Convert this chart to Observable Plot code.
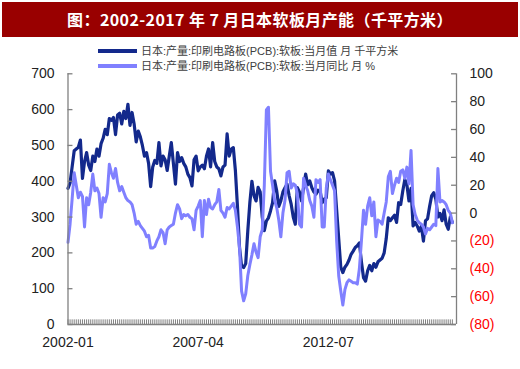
<!DOCTYPE html>
<html><head><meta charset="utf-8">
<script src="https://cdn.jsdelivr.net/npm/d3@7"></script>
<script src="https://cdn.jsdelivr.net/npm/@observablehq/plot@0.6"></script>
<style>
body{margin:0;background:#fff;}
#wrap{position:relative;width:520px;height:369px;overflow:hidden;font-family:"Liberation Sans",Arial,"Noto Sans CJK SC",sans-serif;}
#title{position:absolute;left:2px;top:2px;width:516px;height:35px;background:#990000;color:#fff;font-family:"Noto Sans CJK SC",sans-serif;font-weight:bold;font-size:16px;letter-spacing:0.4px;line-height:35px;text-align:center;white-space:nowrap;}
.leg{position:absolute;left:98px;font-size:11px;color:#404040;height:14px;line-height:14px;white-space:nowrap;font-family:"Liberation Sans","Noto Sans CJK SC",sans-serif;}
.sw{display:inline-block;width:39px;height:4px;vertical-align:middle;margin-right:4px;position:relative;top:-1px;}
#chart svg{position:absolute;left:0;top:0;}
</style></head>
<body>
<div id="wrap">
  <div id="chart"></div>
  <div id="title">图：2002-2017 年 7 月日本软板月产能（千平方米）</div>
  <div class="leg" style="top:44px"><span class="sw" style="background:#13298c"></span>日本:产量:印刷电路板(PCB):软板:当月值 月 千平方米</div>
  <div class="leg" style="top:58.5px"><span class="sw" style="background:#8080ff"></span>日本:产量:印刷电路板(PCB):软板:当月同比 月 %</div>
</div>
<script>
// Monthly values, 2002-01 .. 2017-07
const capacity = [
  380,395,440,485,490,495,515,408,455,480,445,430,
  470,455,490,470,505,520,545,530,575,570,578,530,
  585,590,560,595,575,615,556,592,560,510,540,524,
  500,470,480,450,385,440,458,450,508,443,470,460,
  430,470,508,450,392,480,455,466,450,440,420,410,
  387,460,470,429,440,445,435,470,490,440,508,455,
  440,435,415,440,445,532,470,490,494,430,330,215,
  163,159,170,261,340,400,360,345,383,370,300,262,
  289,298,317,340,401,373,330,345,370,382,392,360,
  336,300,280,382,370,345,382,420,390,401,382,370,
  364,375,373,340,350,354,429,420,424,401,320,240,
  160,145,160,168,180,196,205,215,220,228,175,131,
  121,150,165,150,170,160,175,180,185,200,240,298,
  290,298,305,285,340,335,373,405,390,345,380,275,
  285,275,261,275,233,290,295,330,360,368,350,300,
  310,290,320,280,266,300,285
];
const yoy = [
  -21,-8,10,29,20,11,15,12,-10,11,6,15,
  28,16,18,14,-3,11,8,14,35,29,25,32,
  22,16,19,15,11,9,8,6,0,-8,-6,-9,
  -11,-13,-17,-16,-25,-25,-24,-20,-17,-12,-14,-22,
  -12,-10,-9,-8,0,6,3,-4,-1,-2,-1,-3,
  -4,-12,2,5,9,-17,9,-1,10,4,3,6,
  8,17,2,0,-3,4,3,5,7,2,-10,-25,
  -56,-63,-58,-45,-37,-30,-22,-28,-32,-17,-12,20,
  74,76,30,20,9,4,-5,-17,0,9,29,30,
  18,21,20,14,-8,-10,25,20,16,9,5,-3,
  24,22,24,-10,-10,18,28,24,20,16,-20,-45,
  -56,-66,-55,-50,-48,-49,-50,-50,-51,-40,-20,2,
  -8,5,11,-2,8,-17,-5,-6,-8,0,8,26,
  30,14,20,25,22,30,31,25,33,21,45,6,
  -1,-5,-7,-8,-10,-15,-11,-12,-10,-8,-9,32,
  8,9,8,6,2,0,-7
];
const xTickLabels = ["2002-01","2007-04","2012-07"];
const leftTicks = [0,100,200,300,400,500,600,700];
const rightTicks = [-80,-60,-40,-20,0,20,40,60,80,100];

const startYear = 2002;
const monthIndex = s => (+s.slice(0,4) - startYear) * 12 + (+s.slice(5,7) - 1);
const months = d3.range(capacity.length);
const xMax = capacity.length + 1;
const L0 = 0, L1 = 700, R0 = -80, R1 = 100;
const toLeft = p => L0 + (p - R0) * (L1 - L0) / (R1 - R0);
const fromLeft = v => R0 + (v - L0) * (R1 - R0) / (L1 - L0);
const fmtRight = v => { const p = Math.round(fromLeft(v)); return p < 0 ? `(${-p})` : `${p}`; };

const s1 = months.map(i => ({i, v: capacity[i]}));
const s2 = months.map(i => ({i, v: toLeft(yoy[i])}));
const gray = "#808080";

const chart = Plot.plot({
  width: 520, height: 369,
  marginTop: 73.3, marginBottom: 45, marginLeft: 67.5, marginRight: 64,
  x: {domain: [0, xMax], axis: null, label: null},
  y: {domain: [L0, L1], axis: null, label: null},
  style: {fontFamily: "Liberation Sans, Arial, sans-serif", fontSize: "14px", color: "#222", background: "transparent"},
  marks: [
    Plot.ruleX(months, {x: d => d, y1: 0, y2: 13, stroke: gray, strokeWidth: 1}),
    Plot.line(s1, {x: "i", y: "v", stroke: "#13298c", strokeWidth: 3.2, strokeLinejoin: "round"}),
    Plot.line(s2, {x: "i", y: "v", stroke: "#8080ff", strokeWidth: 3, strokeLinejoin: "round"}),
    Plot.ruleX([0, xMax], {stroke: gray, strokeWidth: 1.3}),
    Plot.ruleY([0], {stroke: gray, strokeWidth: 1.3}),
    Plot.ruleY(leftTicks, {y: d => d, x1: 0, x2: 2.4, stroke: gray, strokeWidth: 1.3}),
    Plot.ruleY(rightTicks.map(toLeft), {y: d => d, x1: xMax - 2.4, x2: xMax, stroke: gray, strokeWidth: 1.3}),
    Plot.axisY(leftTicks, {anchor: "left", tickSize: 0, tickPadding: 13.5, fill: "#222", label: null}),
    Plot.axisY(rightTicks.filter(t => t >= 0).map(toLeft), {anchor: "right", tickSize: 0, tickPadding: 13, fill: "#222", tickFormat: fmtRight, label: null}),
    Plot.axisY(rightTicks.filter(t => t < 0).map(toLeft), {anchor: "right", tickSize: 0, tickPadding: 13, fill: "#ff0000", tickFormat: fmtRight, label: null}),
    Plot.axisX(xTickLabels.map(monthIndex), {anchor: "bottom", tickSize: 0, tickPadding: 13, fill: "#222", label: null, tickFormat: i => xTickLabels.find(s => monthIndex(s) === i)})
  ]
});
document.getElementById("chart").appendChild(chart);
</script>
</body></html>
